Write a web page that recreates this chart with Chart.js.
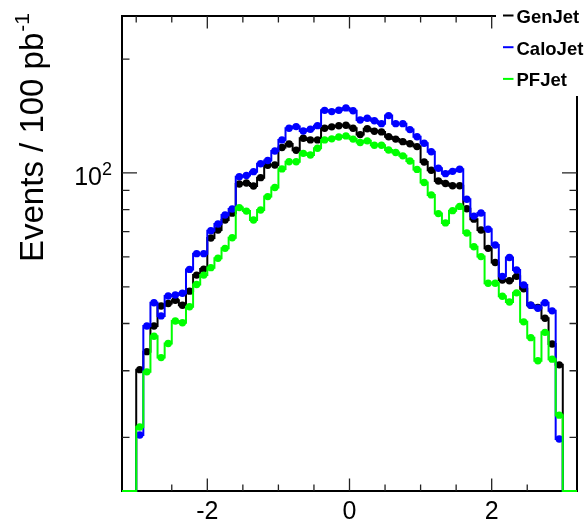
<!DOCTYPE html>
<html><head><meta charset="utf-8">
<script src="https://cdn.jsdelivr.net/npm/chart.js@4.4.1/dist/chart.umd.min.js"></script>
<style>html,body{margin:0;padding:0;background:#fff;}#wrap{width:588px;height:524px;}</style>
</head><body><div id="wrap"><canvas id="c" width="588" height="524"></canvas></div>
<script>
// bin edges in eta (64 bins of 0.1 from -3.2 to 3.2)
const etaEdges = [-3.2,-3.1,-3.0,-2.9,-2.8,-2.7,-2.6,-2.5,-2.4,-2.3,-2.2,-2.1,-2.0,-1.9,-1.8,-1.7,-1.6,-1.5,-1.4,-1.3,-1.2,-1.1,-1.0,-0.9,-0.8,-0.7,-0.6,-0.5,-0.4,-0.3,-0.2,-0.1,0.0,0.1,0.2,0.3,0.4,0.5,0.6,0.7,0.8,0.9,1.0,1.1,1.2,1.3,1.4,1.5,1.6,1.7,1.8,1.9,2.0,2.1,2.2,2.3,2.4,2.5,2.6,2.7,2.8,2.9,3.0,3.1,3.2];

const genJet = [0,0,
  30.2,33.7,39.4,44.5,45.2,46.1,44.7,48.7,53.7,55.7,
  67.3,70.7,75.1,78.3,93.5,94.1,92.4,97.2,104.8,105.0,
  116.8,119.3,114.8,123.5,122.3,122.3,131.3,132.4,133.3,133.7,
  131.3,126.3,130.9,128.9,128.4,124.7,122.9,121.0,119.5,117.4,
  106.9,101.7,95.2,93.8,92.5,92.5,80.4,75.5,70.7,63.2,
  58.0,52.1,51.9,53.3,49.4,44.7,44.1,41.3,35.3,31.1,
  0,0];
const caloJet = [0,0,
  20.3,39.4,45.4,41.9,47.3,47.6,48.1,55.6,61.2,61.2,
  70.4,73.3,77.4,80.3,97.8,98.5,100.8,105.8,107.9,114.3,
  122.3,131.3,132.6,129.1,130.5,133.4,146.4,145.3,146.5,148.6,
  146.1,138.1,139.5,137.4,135.0,141.8,135.0,135.0,130.2,124.7,
  119.8,113.8,102.9,99.6,101.0,102.3,85.2,76.9,78.4,71.0,
  64.5,53.3,59.8,55.4,50.6,44.7,43.9,45.4,43.2,19.8,
  0,0];
const pfJet = [0,0,
  21.3,29.8,37.0,32.5,35.4,40.6,40.2,44.3,50.7,53.7,
  56.2,59.5,63.2,67.4,81.0,79.3,75.1,79.8,86.6,91.5,
  102.5,107.1,107.1,112.7,111.6,116.2,122.3,123.1,124.5,125.3,
  122.9,120.4,121.6,118.4,118.4,115.0,113.3,111.0,107.6,102.2,
  94.4,87.5,78.1,73.8,79.5,81.6,69.4,63.8,60.1,51.1,
  51.1,47.2,45.6,48.2,40.4,36.7,31.9,37.9,32.2,22.9,
  0,0];

const seriesNames = ['GenJet','CaloJet','PFJet'];
const seriesColors = ['#000000','#0000ff','#00ff00'];

const X_MIN = -3.2, X_MAX = 3.2;
const Y_MIN = 14.43, Y_MAX = 260;

const xTickValues = [-3,-2.5,-2,-1.5,-1,-0.5,0,0.5,1,1.5,2,2.5,3];
const xLabelValues = [-2,0,2];
const xTickLabels = ['-2','0','2'];
const yTickValues = [20,30,40,50,60,70,80,90,100,200];
const yLabelValues = [100];
const yTickLabels = [['10','2']];
const yTitle = ['Events / 100 pb','-1'];

const FONT = '"Liberation Sans", Arial, Helvetica, sans-serif';

function stepData(vals){
  const pts = vals.map((v,i)=>({x: etaEdges[i], y: v>0 ? v : Y_MIN}));
  const last = vals[vals.length-1];
  pts.push({x: etaEdges[etaEdges.length-1], y: last>0 ? last : Y_MIN});
  return pts;
}
function markerData(vals){
  const pts = [];
  vals.forEach((v,i)=>{ if(v>0) pts.push({x:(etaEdges[i]+etaEdges[i+1])/2, y:v}); });
  return pts;
}

const allSeries = [pfJet, caloJet, genJet];
const allNames = ['PFJet','CaloJet','GenJet'];
const allColors = ['#00ff00','#0000ff','#000000'];
const datasets = [];
allSeries.forEach((vals,k)=>{
  datasets.push({type:'line', label: allNames[k]+' hist', data: stepData(vals), stepped:'before',
    borderColor: allColors[k], borderWidth: 2, pointRadius: 0, fill:false, clip: 4});
  datasets.push({type:'scatter', label: allNames[k], data: markerData(vals), showLine:false,
    pointRadius: 3.7, pointBackgroundColor: allColors[k], pointBorderColor: allColors[k], pointBorderWidth: 0, clip: 6});
});

const rootFrame = {
  id:'rootFrame',
  beforeDatasetsDraw(chart){
    const {ctx, chartArea:a, scales:{x,y}} = chart;
    ctx.save();
    ctx.strokeStyle='#000'; ctx.lineWidth=2;
    ctx.strokeRect(a.left, a.top, a.right-a.left, a.bottom-a.top);
    ctx.lineWidth=1.3; ctx.strokeStyle='#222';
    ctx.beginPath();
    xTickValues.forEach(v=>{
      const px = x.getPixelForValue(v);
      const L = xLabelValues.includes(v) ? 12.5 : 6.5;
      ctx.moveTo(px,a.bottom); ctx.lineTo(px,a.bottom-L);
      ctx.moveTo(px,a.top); ctx.lineTo(px,a.top+L);
    });
    yTickValues.forEach(v=>{
      const py = y.getPixelForValue(v);
      const L = yLabelValues.includes(v) ? 15 : 7.5;
      ctx.moveTo(a.left,py); ctx.lineTo(a.left+L,py);
      ctx.moveTo(a.right,py); ctx.lineTo(a.right-L,py);
    });
    ctx.stroke();
    ctx.restore();
  },
  afterDraw(chart){
    const {ctx, chartArea:a, scales:{x,y}} = chart;
    ctx.save();
    ctx.fillStyle='#000';
    // x labels
    ctx.font = '25px '+FONT; ctx.textAlign='center'; ctx.textBaseline='alphabetic';
    xLabelValues.forEach((v,i)=>{ ctx.fillText(xTickLabels[i], x.getPixelForValue(v), a.bottom+27.5); });
    // y labels
    yLabelValues.forEach((v,i)=>{
      const py = y.getPixelForValue(v);
      ctx.font = '18px '+FONT; ctx.textAlign='right';
      const supW = ctx.measureText(yTickLabels[i][1]).width;
      const xr = a.left - 10;
      ctx.fillText(yTickLabels[i][1], xr, py + 2);
      ctx.font = '25px '+FONT;
      ctx.fillText(yTickLabels[i][0], xr - supW, py + 12);
    });
    // y title
    ctx.save();
    ctx.translate(43, 262);
    ctx.rotate(-Math.PI/2);
    ctx.textAlign='left';
    ctx.font = '33px '+FONT;
    ctx.fillText(yTitle[0], 0, 0);
    const w = ctx.measureText(yTitle[0]).width;
    ctx.font = '21px '+FONT;
    ctx.fillText(yTitle[1], w+1, -14);
    ctx.restore();
    // legend
    ctx.fillStyle='#fff';
    ctx.fillRect(496, 0, 92, 96);
    ctx.font = 'bold 18.5px '+FONT; ctx.textAlign='left';
    seriesNames.forEach((n,i)=>{
      const base = 23 + i*31.7;
      ctx.strokeStyle = seriesColors[i]; ctx.lineWidth = 2;
      ctx.beginPath(); ctx.moveTo(503, base-7.5); ctx.lineTo(513.5, base-7.5); ctx.stroke();
      ctx.fillStyle='#000';
      ctx.fillText(n, 516.5, base);
    });
    ctx.restore();
  }
};

new Chart(document.getElementById('c'), {
  data: { datasets },
  options: {
    responsive:false, animation:false, devicePixelRatio:1,
    layout:{padding:{left:122, right:11, top:16, bottom:33}},
    plugins:{legend:{display:false}, tooltip:{enabled:false}},
    scales:{
      x:{type:'linear', min:X_MIN, max:X_MAX, display:false},
      y:{type:'logarithmic', min:Y_MIN, max:Y_MAX, display:false}
    }
  },
  plugins:[rootFrame]
});
</script>
</body></html>
